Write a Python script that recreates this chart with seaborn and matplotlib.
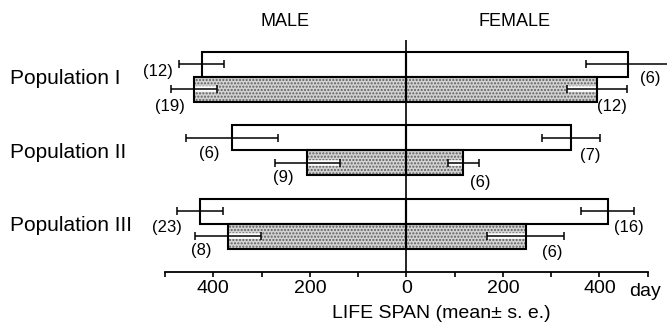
import numpy as np
import pandas as pd
import seaborn as sns
import matplotlib
matplotlib.use("Agg")
import matplotlib.pyplot as plt
from matplotlib.patches import Rectangle
from matplotlib.ticker import FixedLocator, FuncFormatter

# ---- data -------------------------------------------------------------
populations = ["Population I", "Population II", "Population III"]
conditions = ["open", "dotted"]

male_open_mean = [424, 361, 427]
male_open_se = [46, 95, 48]
male_open_n = [12, 6, 23]

male_dotted_mean = [440, 205, 369]
male_dotted_se = [47, 67, 68]
male_dotted_n = [19, 9, 8]

female_open_mean = [459, 342, 417]
female_open_se = [86, 60, 55]
female_open_n = [6, 7, 16]

female_dotted_mean = [395, 118, 247]
female_dotted_se = [63, 32, 80]
female_dotted_n = [12, 6, 6]

major_ticks = [-400, -200, 0, 200, 400]
minor_ticks = [-500, -300, -100, 100, 300, 500]

# ---- tidy table ---------------------------------------------------------
series = {
    ("male", "open"): (male_open_mean, male_open_se, male_open_n),
    ("male", "dotted"): (male_dotted_mean, male_dotted_se, male_dotted_n),
    ("female", "open"): (female_open_mean, female_open_se, female_open_n),
    ("female", "dotted"): (female_dotted_mean, female_dotted_se, female_dotted_n),
}
sign = {"male": -1, "female": 1}
rows = []
for (sex, cond), (means, ses, ns) in series.items():
    for pop, m, s, n in zip(populations, means, ses, ns):
        rows.append(dict(sex=sex, condition=cond, population=pop,
                         value=sign[sex] * m, se=s, n=n))
df = pd.DataFrame(rows)

# offsets (pixels: right, down) of the sample-size labels from the bar end
label_offsets = {
    ("male", "open"): [(-44, 7.5), (-23, 15.5), (-33, 16)],
    ("male", "dotted"): [(-24, 17), (-24.5, 14.5), (-27, 14)],
    ("female", "open"): [(22, 14), (19, 17.5), (21.5, 16)],
    ("female", "dotted"): [(15, 17), (17, 19.5), (26.5, 16)],
}

# ---- figure -------------------------------------------------------------
sns.set_style("ticks")
plt.rcParams["font.family"] = ["Liberation Sans", "DejaVu Sans"]
plt.rcParams["text.color"] = "black"
plt.rcParams["axes.labelcolor"] = "black"

fig = plt.figure(figsize=(6.67, 3.22), dpi=100)
ax = fig.add_axes([0.2474, 0.1553, 0.7237, 0.7205])

palette = {"open": "white", "dotted": "#d2d2d2"}

for sex in ["male", "female"]:
    n_before = len(ax.patches)
    sub = df[df["sex"] == sex]
    sns.barplot(data=sub, x="value", y="population", hue="condition",
                order=populations, hue_order=conditions, palette=palette,
                width=0.68, errorbar=None, legend=False, saturation=1,
                linewidth=0, orient="h", ax=ax)
    for p in ax.patches[n_before:]:
        yc = p.get_y() + p.get_height() / 2
        idx = int(round(yc))
        cond = "open" if yc < idx else "dotted"
        end = p.get_x() + p.get_width()
        row = sub[(sub["population"] == populations[idx]) & (sub["condition"] == cond)].iloc[0]
        se, n = row["se"], row["n"]
        s = sign[sex]
        if cond == "dotted":
            p.set_hatch(".....")
            p.set_edgecolor("#5e5e5e")
            # clear the stipple along the inner half of the error bar
            ax.plot([end - s * se, end], [yc, yc], color="white", lw=4,
                    solid_capstyle="butt", zorder=2.5)
        ax.add_patch(Rectangle((p.get_x(), p.get_y()), p.get_width(), p.get_height(),
                               fill=False, edgecolor="black", lw=1.5, zorder=3))
        ax.errorbar(end, yc, xerr=se, fmt="none", ecolor="black", elinewidth=1.1,
                    capsize=2.6, capthick=1.1, zorder=4, clip_on=False)
        dx, dy = label_offsets[(sex, cond)][idx]
        ax.annotate(f"({n})", xy=(end, yc), xytext=(dx, -dy),
                    textcoords="offset pixels", ha="center", va="center",
                    fontsize=12, color="black")

ax.axvline(0, color="black", lw=1.2, zorder=5)

ax.set_xlim(-500, 500)
ax.set_ylim(2.657, -0.5)
ax.xaxis.set_major_locator(FixedLocator(major_ticks))
ax.xaxis.set_minor_locator(FixedLocator(minor_ticks))
ax.xaxis.set_major_formatter(FuncFormatter(lambda v, _: f"{abs(int(v))}"))
ax.tick_params(axis="x", which="both", direction="out", length=3.6, width=1.2,
               labelsize=14, pad=2.5, colors="black")
ax.tick_params(axis="y", length=0, pad=111.6, labelsize=15, colors="black")
for lbl in ax.get_yticklabels():
    lbl.set_ha("left")
ax.set_xlabel("")
ax.set_ylabel("")

for side in ["top", "left", "right"]:
    ax.spines[side].set_visible(False)
ax.spines["bottom"].set_linewidth(1.3)
ax.spines["bottom"].set_color("black")

fig.text(285 / 667, 1 - 21.7 / 322, "MALE", ha="center", va="center",
         fontsize=13, color="black")
fig.text(515 / 667, 1 - 21.7 / 322, "FEMALE", ha="center", va="center",
         fontsize=13, color="black")
fig.text(441.5 / 667, 1 - 313 / 322, "LIFE SPAN (mean\u00b1 s. e.)",
         ha="center", va="center", fontsize=14, color="black")
fig.text(645.5 / 667, 1 - 291 / 322, "day", ha="center", va="center",
         fontsize=14, color="black")

fig.savefig("out.png", dpi=100, facecolor="white")
